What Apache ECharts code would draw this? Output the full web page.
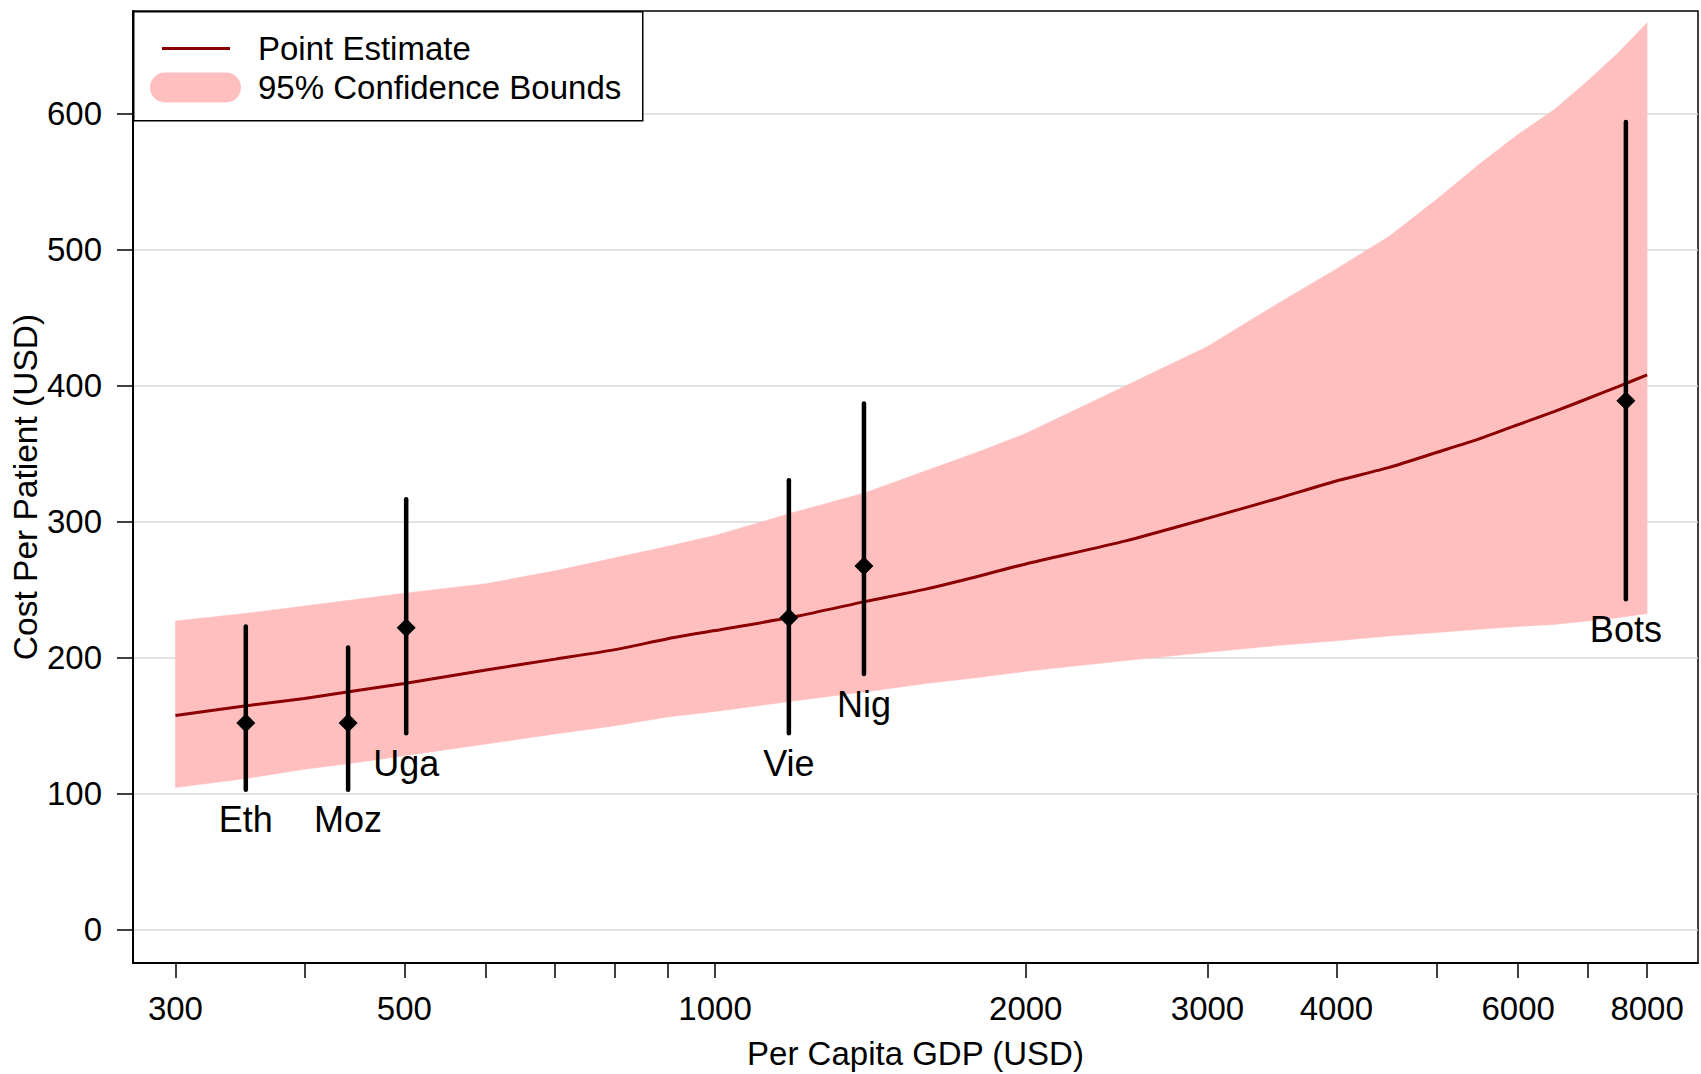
<!DOCTYPE html>
<html>
<head>
<meta charset="utf-8">
<script src="https://cdn.jsdelivr.net/npm/echarts@6/dist/echarts.min.js"></script>
<style>
html,body{margin:0;padding:0;background:#fff;}
#chart{width:1701px;height:1074px;}
</style>
</head>
<body>
<div id="chart"></div>
<script>
// ---- Data ----
const gdpGrid = [300,350,400,450,500,600,700,800,900,1000,1200,1400,1600,1800,2000,2500,3000,3500,4000,4500,5000,5500,6000,6500,7000,7500,8000];
const pointEstimate = [157.5,164.5,170,176,181,191,199,206,214,220,230.5,241.5,250.5,260,269,286,302.5,317,330,340,351,361,371.5,381,390.5,399.5,408];
const upperBound = [227,232.5,238,243,247.5,254.5,264,273.5,282,290,307.5,321.5,337.5,351.5,365,400,429,460,486,510,537,563,585,603,624,645,667];
const lowerBound = [104.5,111,118,123,128,136.5,144,150,156.5,160.5,168.5,175,181,185.5,190,198,204,209,212.5,216,218.5,221,223,224.5,227,229.5,232.5];

const countries = ['Eth','Moz','Uga','Vie','Nig','Bots'];
const countryGdp = [351,441,502,1179,1394,7630];
const countryEst = [152,152,222,229.5,267.5,389];
const countryLow = [103,103,144.5,144.5,188,243];
const countryHigh = [223,207.5,316.5,330.5,387,594];

const xTickValues = [300,400,500,600,700,800,900,1000,2000,3000,4000,5000,6000,7000,8000];
const xLabelValues = [300,500,1000,2000,3000,4000,6000,8000];
const yTickValues = [0,100,200,300,400,500,600];

// ---- Build ----
const L = v => Math.log10(v);
const FONT = '"Liberation Sans", Arial, Helvetica, sans-serif';

const lineData = gdpGrid.map((g,i)=>[L(g), pointEstimate[i]]);
const bandData = gdpGrid.map((g,i)=>[L(g), lowerBound[i], upperBound[i]]);
const barData = countries.map((c,i)=>[L(countryGdp[i]), countryLow[i], countryHigh[i], countryEst[i]]);

const chart = echarts.init(document.getElementById('chart'), null, {renderer:'svg'});

const pillPath = 'path://M15,0 L76,0 A15,15 0 0 1 76,30 L15,30 A15,15 0 0 1 15,0 Z';
const BAND = '#ffbfbf';

const option = {
  backgroundColor:'#fff',
  animation:false,
  textStyle:{fontFamily:FONT},
  grid:{left:133,right:3,top:11,bottom:111,show:true,borderColor:'#000',borderWidth:1.5,backgroundColor:'#fff',
        containLabel:false, outerBoundsMode:'none'},
  xAxis:{
    type:'value', min:L(272.9), max:L(8962),
    name:'Per Capita GDP (USD)', nameLocation:'middle', nameGap:74, nameMoveOverlap:false,
    nameTextStyle:{fontSize:33,color:'#000',fontFamily:FONT},
    axisLine:{show:true,onZero:false,lineStyle:{color:'#000',width:2}},
    axisTick:{show:true,inside:false,length:15,lineStyle:{color:'#000',width:1.5},customValues:xTickValues.map(L)},
    axisLabel:{show:true,margin:29,fontSize:33,color:'#000',fontFamily:FONT,customValues:xLabelValues.map(L),
      formatter:v=>String(Math.round(Math.pow(10,v)))},
    splitLine:{show:false}
  },
  yAxis:{
    type:'value', min:-24.5, max:675.7,
    name:'Cost Per Patient (USD)', nameLocation:'middle', nameGap:90.5, nameMoveOverlap:false,
    nameTextStyle:{fontSize:33.5,color:'#000',fontFamily:FONT},
    axisLine:{show:true,onZero:false,lineStyle:{color:'#000',width:2}},
    axisTick:{show:true,inside:false,length:16,lineStyle:{color:'#000',width:1.5},customValues:yTickValues},
    axisLabel:{show:true,margin:31,fontSize:33,color:'#000',fontFamily:FONT,customValues:yTickValues},
    splitLine:{show:true,lineStyle:{color:'#d9d9d9',width:1.5}}
  },
  legend:[
    {data:[{name:'Point Estimate',icon:'rect'}], left:162, top:32, padding:0, orient:'vertical',
     itemWidth:68, itemHeight:3, selectedMode:false, z:5,
     itemStyle:{color:'#8b0000',borderWidth:0}, lineStyle:{width:0},
     textStyle:{fontSize:33,color:'#000',fontFamily:FONT,padding:[0,0,0,23]}},
    {data:[{name:'95% Confidence Bounds',icon:pillPath}], left:150, top:71, padding:0, orient:'vertical',
     itemWidth:91, itemHeight:30, selectedMode:false, z:5,
     itemStyle:{color:BAND,borderWidth:0}, lineStyle:{width:0},
     textStyle:{fontSize:33,color:'#000',fontFamily:FONT,padding:[0,0,0,12]}}
  ],
  graphic:[
    {type:'rect', left:133, top:11, z:4, shape:{width:509,height:109}, style:{fill:'#fff',stroke:'#000',lineWidth:1.5}}
  ],
  series:[
    {name:'95% Confidence Bounds', type:'custom', data:bandData, encode:{x:0,y:[1,2]}, z:1, silent:true,
     itemStyle:{color:BAND},
     renderItem:function(params, api){
       if (params.dataIndex !== 0) return null;
       const top = bandData.map(d=>api.coord([d[0], d[2]]));
       const bot = bandData.map(d=>api.coord([d[0], d[1]])).reverse();
       return {type:'polygon', shape:{points:top.concat(bot), smooth:0}, style:{fill:BAND, stroke:BAND, lineWidth:0.5}};
     }},
    {name:'Point Estimate', type:'line', data:lineData, symbol:'none', smooth:0.2,
     lineStyle:{color:'#8b0000',width:3}, itemStyle:{color:'#8b0000'}, silent:true, z:2},
    {name:'Countries', type:'custom', data:barData, encode:{x:0,y:[1,2,3]}, z:3, silent:true,
     renderItem:function(params, api){
       const x = api.value(0);
       const pLo = api.coord([x, api.value(1)]);
       const pHi = api.coord([x, api.value(2)]);
       const pE = api.coord([x, api.value(3)]);
       const r = 9.5;
       return {type:'group', children:[
         {type:'line', shape:{x1:pLo[0],y1:pLo[1],x2:pHi[0],y2:pHi[1]}, style:{stroke:'#000',lineWidth:4.5,lineCap:'round'}},
         {type:'polygon', shape:{points:[[pE[0],pE[1]-r],[pE[0]+r,pE[1]],[pE[0],pE[1]+r],[pE[0]-r,pE[1]]]}, style:{fill:'#000'}},
         {type:'text', x:pLo[0], y:pLo[1]+30, style:{text:countries[params.dataIndex], fill:'#000', fontSize:36, fontFamily:FONT, align:'center', verticalAlign:'middle'}}
       ]};
     }}
  ]
};
chart.setOption(option);
</script>
</body>
</html>
